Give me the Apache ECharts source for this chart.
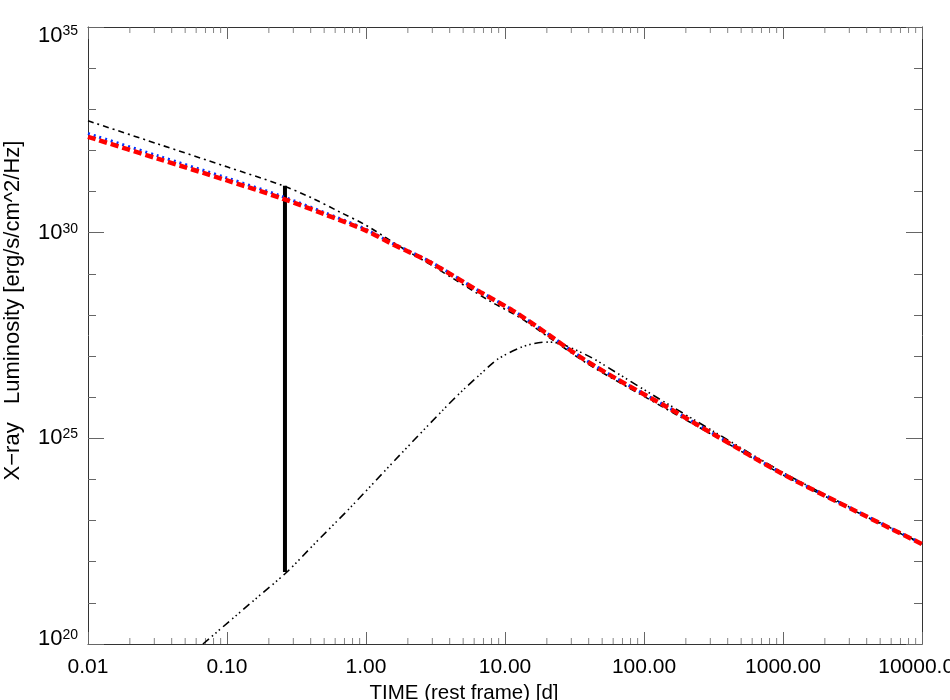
<!DOCTYPE html>
<html>
<head>
<meta charset="utf-8">
<title>X-ray luminosity</title>
<script src="https://cdn.jsdelivr.net/npm/echarts@6/dist/echarts.min.js"></script>
<style>
  html, body { margin: 0; padding: 0; background: #fff; }
  #chart { width: 950px; height: 700px; }
</style>
</head>
<body>
<div id="chart"></div>
<script>
// log10 of time [d] and log10 of luminosity
const redLogT = [-2, -1.5, -1, -0.611, -0.3, 0, 0.173, 0.46, 0.82, 1.058, 1.3, 1.54, 1.8, 2.165, 2.5, 3.0, 3.5, 4.0];
const redLogL = [32.33, 31.80, 31.27, 30.84, 30.45, 30.05, 29.75, 29.28, 28.56, 28.10, 27.55, 26.98, 26.45, 25.76, 25.10, 24.13, 23.27, 22.43];
const blueLogL = [32.41, 31.87, 31.33, 30.89, 30.49, 30.08, 29.77, 29.30, 28.57, 28.11, 27.56, 26.99, 26.46, 25.77, 25.11, 24.14, 23.28, 22.44];

const dashDotLogT = [-2, -1.5, -1, -0.611, -0.4, -0.187, 0, 0.245, 0.5, 0.9, 1.1, 1.34, 1.6, 2.0, 2.5, 3.0, 3.5, 4.0];
const dashDotLogL = [32.72, 32.16, 31.60, 31.16, 30.86, 30.50, 30.18, 29.66, 29.15, 28.32, 27.95, 27.40, 26.80, 26.02, 25.07, 24.11, 23.26, 22.43];

const risingLogT = [-1.173, -0.8, -0.569, -0.381, -0.115, 0.245, 0.554, 0.7, 0.82, 0.95, 1.108, 1.2, 1.302, 1.4, 1.612, 1.8, 2.065, 2.5, 3.0, 3.5, 4.0];
const risingLogL = [20.0, 21.08, 21.75, 22.40, 23.31, 24.60, 25.69, 26.18, 26.55, 26.93, 27.20, 27.30, 27.34, 27.30, 26.98, 26.60, 26.05, 25.17, 24.17, 23.29, 22.44];

const jumpLogT = [-0.583, -0.583];
const jumpLogL = [21.75, 31.14];

const xTickLabels = ['0.01', '0.10', '1.00', '10.00', '100.00', '1000.00', '10000.00'];
const yTickExps = [20, 25, 30, 35];

const FONT = 'Liberation Sans, Arial, sans-serif';
const TICK = '#666';

function pairs(xs, ys) {
    return xs.map((x, i) => [x, ys[i]]);
}

// minor ticks at 2..9 within each decade
function minorLogTicks(lo, hi) {
    const out = [];
    for (let d = lo; d < hi; d++) {
        for (let k = 2; k <= 9; k++) out.push(d + Math.log10(k));
    }
    return out;
}

function yLabel(v) {
    if (yTickExps.indexOf(v) < 0) return '';
    if (v === 35) return '{gapT| }\n{b|10}{s|' + v + '}';
    if (v === 20) return '{b|10}{s|' + v + '}\n{gapB| }';
    return '{b|10}{s|' + v + '}';
}

// small tick marks drawn as thin rects sitting on the frame
function tickSeries(yVal, offset) {
    return {
        type: 'scatter', silent: true, z: 1,
        symbol: 'rect', symbolSize: [1, 6], symbolOffset: [0, offset],
        itemStyle: { color: TICK },
        data: minorLogTicks(-2, 4).map(x => [x, yVal])
    };
}

function renderChart() {
    const chartDom = document.getElementById('chart');
    const myChart = echarts.init(chartDom, null, { renderer: 'canvas' });

    const frame = { show: true, onZero: false, lineStyle: { color: '#333', width: 1 } };
    const baseX = { type: 'value', min: -2, max: 4, interval: 1, splitLine: { show: false } };
    const baseY = { type: 'value', min: 20, max: 35, interval: 5, splitLine: { show: false } };

    const option = {
        animation: false,
        backgroundColor: '#fff',
        grid: { left: 88, right: 28, top: 27, bottom: 56, containLabel: false, outerBoundsMode: 'none' },
        xAxis: [
            Object.assign({}, baseX, {
                position: 'bottom',
                axisLine: frame,
                axisTick: { inside: true, length: 12, lineStyle: { color: TICK } },
                axisLabel: {
                    margin: 13, color: '#000', fontSize: 21, fontFamily: FONT,
                    formatter: v => xTickLabels[Math.round(v + 2)]
                },
                name: 'TIME (rest frame) [d]',
                nameLocation: 'middle',
                nameGap: 32,
                nameTextStyle: { color: '#000', fontSize: 20.5, fontFamily: FONT, padding: [0, 82, 0, 0] }
            }),
            Object.assign({}, baseX, {
                position: 'top',
                axisLine: frame,
                axisTick: { inside: true, length: 12, lineStyle: { color: TICK } },
                axisLabel: { show: false }
            })
        ],
        yAxis: [
            Object.assign({}, baseY, {
                position: 'left',
                axisLine: frame,
                axisTick: { inside: true, length: 16, lineStyle: { color: TICK } },
                minorTick: { show: true, splitNumber: 5, length: 8, lineStyle: { color: TICK } },
                axisLabel: {
                    margin: 10, color: '#000', fontFamily: FONT,
                    formatter: yLabel,
                    rich: {
                        b: { fontSize: 22, fontFamily: FONT, color: '#000', lineHeight: 22 },
                        s: { fontSize: 14, fontFamily: FONT, color: '#000', verticalAlign: 'top', lineHeight: 14 },
                        gapT: { fontSize: 10, lineHeight: 17 },
                        gapB: { fontSize: 10, lineHeight: 10 }
                    }
                },
                name: 'X\u2212ray   Luminosity [erg/s/cm^2/Hz]',
                nameLocation: 'middle',
                nameRotate: 90,
                nameGap: 64,
                nameTextStyle: { color: '#000', fontSize: 22, fontFamily: FONT, padding: [0, 0, 0, 50] }
            }),
            Object.assign({}, baseY, {
                position: 'right',
                axisLine: frame,
                axisTick: { inside: true, length: 16, lineStyle: { color: TICK } },
                minorTick: { show: true, splitNumber: 5, length: 8, lineStyle: { color: TICK } },
                axisLabel: { show: false }
            })
        ],
        series: [
            tickSeries(20, -3),
            tickSeries(35, 3),
            {
                name: 'rising', type: 'line', showSymbol: false, smooth: 0.3,
                data: pairs(risingLogT, risingLogL),
                lineStyle: { color: '#000', width: 1.6, type: [8, 4, 1.5, 3, 1.5, 3, 1.5, 4] }
            },
            {
                name: 'jump', type: 'line', showSymbol: false,
                data: pairs(jumpLogT, jumpLogL),
                lineStyle: { color: '#000', width: 4, type: 'solid' }
            },
            {
                name: 'dashdot', type: 'line', showSymbol: false, smooth: 0.3,
                data: pairs(dashDotLogT, dashDotLogL),
                lineStyle: { color: '#000', width: 1.6, type: [6, 4, 2, 4] }
            },
            {
                name: 'blue', type: 'line', showSymbol: false, smooth: 0.3,
                data: pairs(redLogT, blueLogL),
                lineStyle: { color: '#0033ff', width: 3, type: [2, 4] }
            },
            {
                name: 'red', type: 'line', showSymbol: false, smooth: 0.3,
                data: pairs(redLogT, redLogL),
                lineStyle: { color: '#ff0000', width: 4.5, type: [8, 4] }
            }
        ]
    };

    myChart.setOption(option);
}

window.addEventListener('load', function () {
    renderChart();
});
</script>
</body>
</html>
